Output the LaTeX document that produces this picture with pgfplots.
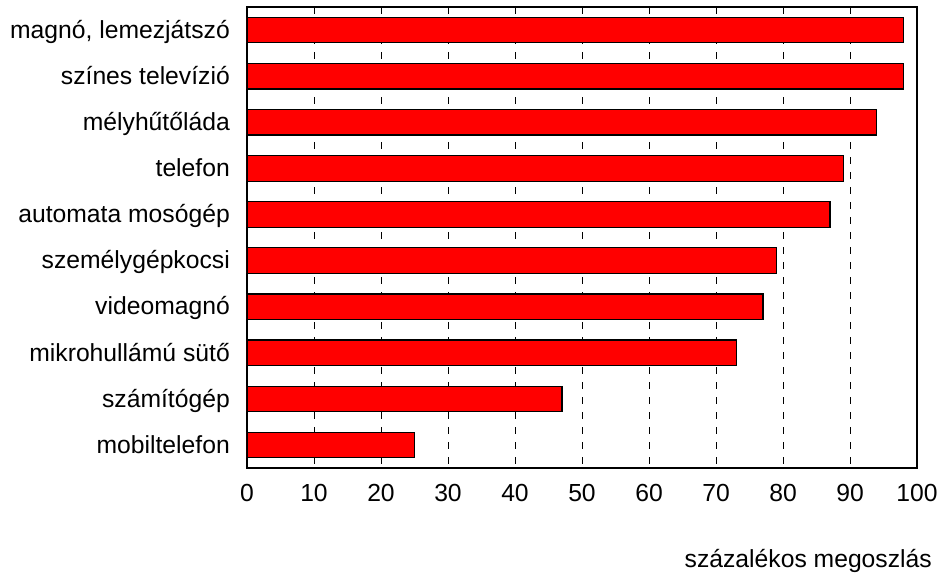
\documentclass[border=0pt]{standalone}
\usepackage{fontspec}
\setmainfont{Liberation Sans}
\usepackage{pgfplots}
\pgfplotsset{compat=1.18}
\begin{document}
\begin{tikzpicture}[font=\fontsize{24.7}{29}\selectfont]
\useasboundingbox (-247pt,-112pt) rectangle (694pt,468pt);
\begin{axis}[
  at={(0pt,0pt)}, anchor=south west,
  scale only axis,
  width=670pt, height=461pt,
  xbar, bar width=25.5pt,
  xmin=0, xmax=100,
  ymin=-0.5, ymax=9.5,
  y dir=reverse,
  xtick={0,10,...,100},
  ytick={0,...,9},
  yticklabels={{magnó, lemezjátszó},színes televízió,mélyhűtőláda,telefon,automata mosógép,személygépkocsi,videomagnó,mikrohullámú sütő,számítógép,mobiltelefon},
  major tick length=0pt,
  /pgf/number format/assume math mode=true,
  xticklabel style={anchor=base, inner sep=0pt, yshift=-33.7pt},
  yticklabel style={anchor=base east, inner sep=0pt, xshift=-17pt, yshift=-8.3pt},
  xmajorgrids,
  major grid style={black, line width=0.9pt, dash pattern=on 7pt off 8pt},
  axis line style={black, line width=1.3pt},
  xlabel={százalékos megoszlás},
  xlabel style={at={(rel axis cs:1,0)}, anchor=base east, inner sep=0pt, xshift=15pt, yshift=-99pt},
]
\addplot[fill={rgb,255:red,255;green,0;blue,0}, draw=black, line width=1.2pt] coordinates {
  (98,0) (98,1) (94,2) (89,3) (87,4) (79,5) (77,6) (73,7) (47,8) (25,9)
};
\end{axis}
\end{tikzpicture}
\end{document}
